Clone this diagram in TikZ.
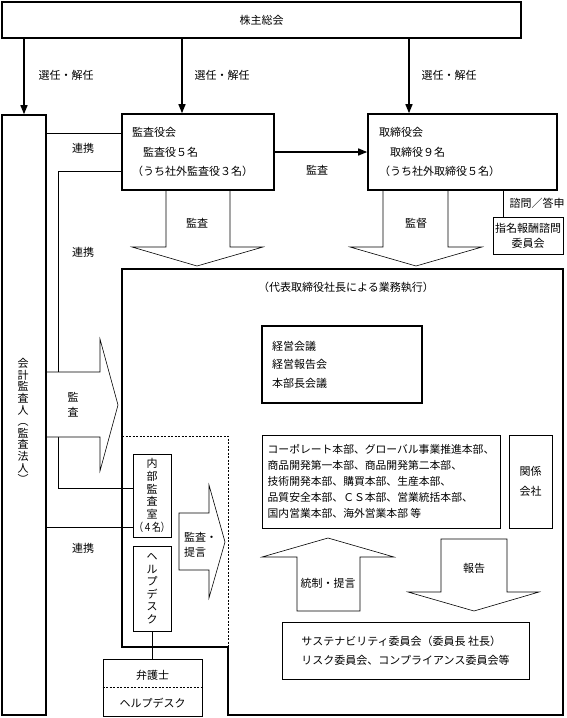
\documentclass[tikz,border=0pt]{standalone}
\usepackage{fontspec}
\setmainfont{Noto Sans CJK JP}
\usetikzlibrary{arrows.meta}

\tikzset{
  thickbox/.style={draw, line width=1.6pt, inner sep=0pt},
  thinbox/.style={draw, line width=0.7pt, inner sep=0pt},
  board/.style={thickbox, align=left, inner xsep=10pt, minimum height=76pt, font=\fontsize{11}{19.5}\selectfont},
  tate/.style={align=center, inner sep=0pt},
  sel/.style={-{Triangle[length=9pt,width=7pt]}, line width=1.3pt},
  link/.style={line width=0.6pt},
  bigarrow/.style={draw, line width=0.6pt},
}

\begin{document}
\begin{tikzpicture}[x=1pt, y=-1pt, font=\fontsize{11}{13}\selectfont]
  \fill[white] (0,0) rectangle (567,718);
  \useasboundingbox (0,0) rectangle (567,718);

  % shareholders and the two boards
  \node[thickbox, minimum width=519pt, minimum height=36pt] (kabu) at (261.5,20) {株主総会};
  \node[thickbox, minimum width=44pt, minimum height=600pt] (kaikei) at (24,415) {};
  \node[tate, font=\fontsize{11}{11.6}\selectfont] (kaikeitxt) at (23,421) {会\\計\\監\\査\\人\\︵\\監\\査\\法\\人\\︶};
  \node[board, text width=132pt] (kansa) at (198,152) {監査役会\\　監査役５名\\（うち社外監査役３名）};
  \node[board, text width=167pt, inner xsep=11pt] (tori) at (462.5,152) {取締役会\\　取締役９名\\（うち社外取締役５名）};
  \node[thinbox, minimum width=70pt, minimum height=37pt, align=center, font=\fontsize{11}{15}\selectfont] (shimei) at (528,235.5) {指名報酬諮問\\委員会};

  % election arrows
  \draw[sel] (kaikei.north |- kabu.south) -- (kaikei.north);
  \draw[sel] ([xshift=-16pt]kansa.north |- kabu.south) -- ([xshift=-16pt]kansa.north);
  \draw[sel] ([xshift=-53.5pt]tori.north |- kabu.south) -- ([xshift=-53.5pt]tori.north);
  \node (sen1) at (66,75) {選任・解任};
  \node (sen2) at (222,75) {選任・解任};
  \node (sen3) at (449,75) {選任・解任};

  \draw[sel] (kansa.east) -- (tori.west);
  \node (kansalbl) at (317,170) {監査};

  \draw[link] ([xshift=-25pt]shimei.north) -- ([xshift=-25pt]shimei.north |- tori.south);
  \node[anchor=west] (toshin) at (506,203) {諮問／答申};

  % business execution
  \draw[thickbox] (122,269) -- (563,269) -- (563,715) -- (228,715) -- (228,647) -- (122,647) -- cycle;
  \draw[dash pattern=on 2pt off 1.5pt, line width=0.6pt] (122,436) -- (228,436) -- (228,647);
  \node (gyomu) at (346,287) {（代表取締役社長による業務執行）};

  \node[thickbox, text width=140pt, inner xsep=10pt, minimum height=77pt, align=left, font=\fontsize{11}{18.5}\selectfont] (keiei) at (342,364.5) {経営会議\\経営報告会\\本部長会議};
  \node[thinbox, minimum width=238pt, minimum height=93pt, align=left, font=\fontsize{10.8}{16}\selectfont] (hombu) at (381,481.5) {コーポレート本部、グローバル事業推進本部、\\商品開発第一本部、商品開発第二本部、\\技術開発本部、購買本部、生産本部、\\品質安全本部、ＣＳ本部、営業統括本部、\\国内営業本部、海外営業本部 等};
  \node[thinbox, minimum width=43pt, minimum height=93pt, align=center, font=\fontsize{11}{20}\selectfont] (kankei) at (530.5,481.5) {関係\\会社};
  \node[thinbox, minimum width=247pt, minimum height=57pt, align=left, font=\fontsize{11}{19}\selectfont] (suste) at (405.5,650.5) {サステナビリティ委員会（委員長 社長）\\リスク委員会、コンプライアンス委員会等};

  % internal audit
  \node[thinbox, minimum width=38pt, minimum height=83pt, tate, font=\fontsize{11}{12.8}\selectfont] (naibu) at (152,495.5) {内\\部\\監\\査\\室\\\scalebox{0.8}[1]{（４名）}};
  \node[thinbox, minimum width=38pt, minimum height=85pt, tate, font=\fontsize{11}{12.5}\selectfont] (help) at (152,588.5) {ヘ\\ル\\プ\\デ\\ス\\ク};
  \node[thinbox, minimum width=99pt, minimum height=57pt] (bengo) at (152.5,687.5) {};
  \draw[dash pattern=on 2pt off 1.5pt, line width=0.6pt] (bengo.west) -- (bengo.east);
  \node (bengotxt) at (152.5,675) {弁護士};
  \node (helptxt) at (152.5,703) {ヘルプデスク};
  \draw[link] (help.south) -- (help.south |- bengo.north);

  % links with the auditor
  \coordinate (lk) at (58,488);
  \draw[link] ([yshift=19pt]kansa.west) -- ([yshift=19pt]kansa.west -| kaikei.east);
  \draw[link] ([yshift=-19pt]kansa.west) -| (lk) -- (lk -| naibu.west);
  \draw[link] ([yshift=-31.5pt]naibu.west) -- ([yshift=-31.5pt]naibu.west -| kaikei.east);
  \node (renkei1) at (83,148) {連携};
  \node (renkei2) at (83,252) {連携};
  \node (renkei3) at (83,548) {連携};

  % block arrows
  \draw[bigarrow, fill=white] (47,372) -- (100,372) -- (100,339) -- (118,405) -- (100,471) -- (100,437) -- (47,437);
  \node[tate, font=\fontsize{11}{15}\selectfont] (kansa2) at (73,404.5) {監\\査};

  \draw[bigarrow] (166,190) -- (166,247) -- (132,247) -- (197,266) -- (263,247) -- (230,247) -- (230,190);
  \node (kansa3) at (197,223) {監査};
  \draw[bigarrow] (383,190) -- (383,247) -- (350,247) -- (416,266) -- (482,247) -- (448,247) -- (448,190);
  \node (kantoku) at (416,223) {監督};

  \draw[bigarrow] (179,513) -- (209,513) -- (209,485) -- (225,542) -- (209,598) -- (209,570) -- (179,570) -- cycle;
  \node[align=left, font=\fontsize{11}{15}\selectfont] (teigen) at (200.5,544.5) {監査・\\提言};

  \draw[bigarrow] (297,611) -- (297,557) -- (262,557) -- (328,538) -- (394,557) -- (360,557) -- (360,611) -- cycle;
  \node (tosei) at (328,583) {統制・提言};
  \draw[bigarrow] (441,539) -- (507,539) -- (507,592) -- (539,592) -- (474,611) -- (408,592) -- (441,592) -- cycle;
  \node (hokoku) at (474,568) {報告};

\end{tikzpicture}
\end{document}
